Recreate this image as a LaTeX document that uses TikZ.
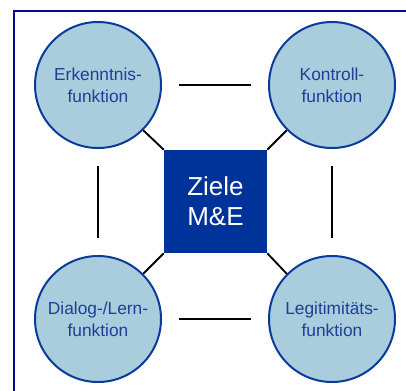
\documentclass[tikz,border=0pt]{standalone}
\usepackage{fontspec}
\setmainfont{Liberation Sans}
\definecolor{frameblue}{HTML}{000C8A}
\definecolor{ringblue}{HTML}{0A3A9A}
\definecolor{fillblue}{HTML}{A9CDDC}
\definecolor{coreblue}{HTML}{003399}
\definecolor{textblue}{HTML}{1C3F98}
\tikzset{
  func/.style={circle, draw=ringblue, line width=1.5pt, fill=fillblue,
    minimum size=126*0.75pt, inner sep=0pt, align=center,
    text=textblue, font=\fontsize{13}{16.5}\selectfont},
  core/.style={rectangle, fill=coreblue, minimum size=103*0.75pt,
    inner sep=0pt, align=center, text=white,
    font=\fontsize{19.5}{22.5}\selectfont},
  link/.style={draw=black, line width=1.4pt},
  gap/.style={link, shorten >=12.5pt, shorten <=12.5pt}
}
\begin{document}
\begin{tikzpicture}[x=0.75pt, y=-0.75pt]
\useasboundingbox (0,0) rectangle (406,390);
\clip (0,0) rectangle (406,390);
% outer frame (runs past the right and lower edges)
\draw[frameblue, line width=2.2pt] (14,11) rectangle (430,410);

\node[core] (z) at (215.5,201.5) {Ziele\\M\&E};
\node[func] (e) at (98,85) {Erkenntnis-\\funktion};
\node[func] (k) at (332,85) {Kontroll-\\funktion};
\node[func] (d) at (98,319) {Dialog-/Lern-\\funktion};
\node[func] (l) at (332,319) {Legitimitäts-\\funktion};

% ring of connectors with gaps
\draw[gap] (e) -- (k);
\draw[gap] (k) -- (l);
\draw[gap] (l) -- (d);
\draw[gap] (d) -- (e);

% spokes to the centre
\draw[link] (e.south east) -- (z.north west);
\draw[link] (k.south west) -- (z.north east);
\draw[link] (d.north east) -- (z.south west);
\draw[link] (l.north west) -- (z.south east);
\end{tikzpicture}
\end{document}
